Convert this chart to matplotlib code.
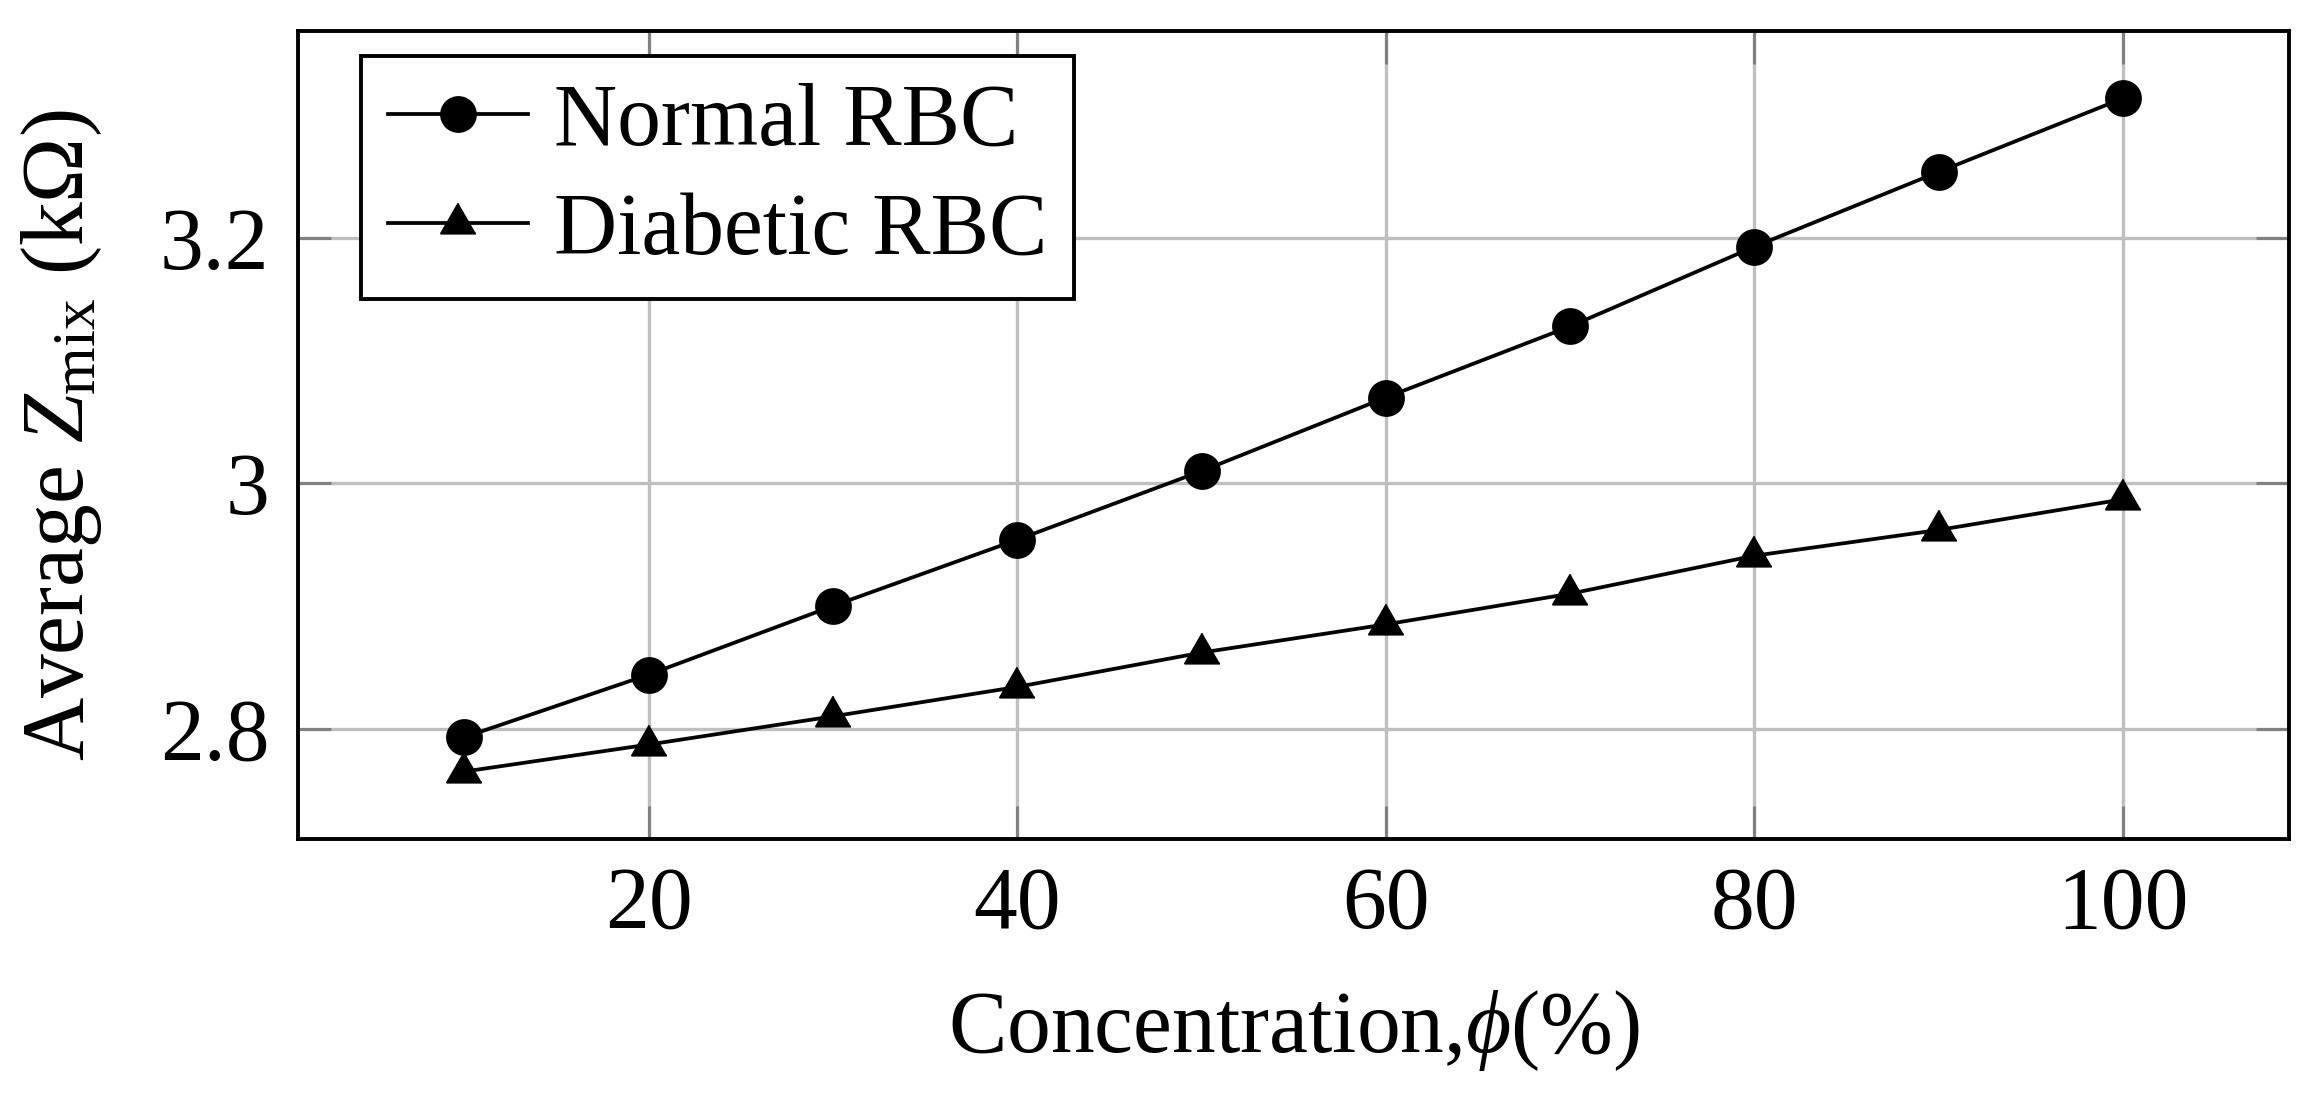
import numpy as np
import matplotlib
matplotlib.use('Agg')
import matplotlib.pyplot as plt

# Values
concentration = [10, 20, 30, 40, 50, 60, 70, 80, 90, 100]
normal_rbc = [2.793, 2.844, 2.900, 2.954, 3.010, 3.070, 3.128, 3.193, 3.254, 3.314]
diabetic_rbc = [2.765, 2.787, 2.810, 2.834, 2.862, 2.885, 2.910, 2.941, 2.962, 2.987]

x_ticks = [20, 40, 60, 80, 100]
y_ticks = [2.8, 3.0, 3.2]
y_tick_labels = ['2.8', '3', '3.2']

# Serif look similar to the LaTeX original
plt.rcParams['font.family'] = ['Liberation Serif', 'DejaVu Serif']
plt.rcParams['mathtext.fontset'] = 'custom'
plt.rcParams['mathtext.rm'] = 'Liberation Serif'
plt.rcParams['mathtext.it'] = 'Liberation Serif:italic'
plt.rcParams['font.size'] = 63

fig = plt.figure(figsize=(23.13, 10.98), dpi=100)
ax = fig.add_axes([0.129, 0.236, 0.8606, 0.7358])

# equilateral triangle centred on its circumcentre (like pgfplots)
tri = [(0, 1), (-0.866, -0.5), (0.866, -0.5)]

ax.plot(concentration, normal_rbc, color='black', lw=2.7, marker='o',
        ms=25, mew=1.5, mfc='black', mec='black', label='Normal RBC', zorder=3)
ax.plot(concentration, diabetic_rbc, color='black', lw=2.7, marker=tri,
        ms=29, mew=1.5, mfc='black', mec='black', label='Diabetic RBC', zorder=3)

# pgfplots-style limits: 10% enlarged
xr = max(concentration) - min(concentration)
ax.set_xlim(min(concentration) - 0.1 * xr, max(concentration) + 0.1 * xr)
yall = normal_rbc + diabetic_rbc
yr = max(yall) - min(yall)
ax.set_ylim(min(yall) - 0.1 * yr, max(yall) + 0.1 * yr)

ax.set_xticks(x_ticks)
ax.set_yticks(y_ticks)
ax.set_yticklabels(y_tick_labels)

ax.grid(True, color='#bfbfbf', lw=2.4, zorder=0)
ax.set_axisbelow(True)
ax.tick_params(axis='both', direction='in', length=24, width=2.2,
               color='#808080', top=True, right=True)
ax.tick_params(axis='x', pad=19)
ax.tick_params(axis='y', pad=21)
for s in ax.spines.values():
    s.set_linewidth(2.8)
    s.set_zorder(4)

ax.set_xlabel('Concentration,$\\phi$(%)', labelpad=30)
ax.set_ylabel('Average $Z_{\\mathrm{mix}}$ (k$\\Omega$)', labelpad=40)

leg = ax.legend(loc='upper left', bbox_to_anchor=(0.0317, 0.969),
                borderaxespad=0, fancybox=False, framealpha=1,
                edgecolor='black', borderpad=0.3, labelspacing=0.32,
                handlelength=1.6, handletextpad=0.3)
leg.get_frame().set_linewidth(2.8)

fig.savefig('out.png', dpi=100)
